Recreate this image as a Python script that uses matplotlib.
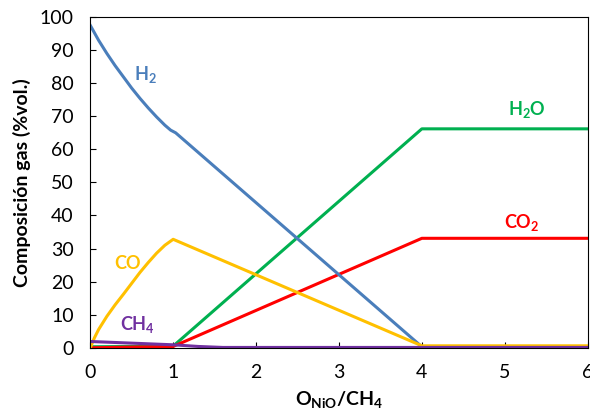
import matplotlib
matplotlib.use("Agg")
import matplotlib.pyplot as plt

plt.rcParams['font.family'] = ['Lato', 'DejaVu Sans']
plt.rcParams['mathtext.fontset'] = 'custom'
plt.rcParams['mathtext.rm'] = 'Lato'
plt.rcParams['mathtext.bf'] = 'Lato:bold'

# valores
h2_x = [0, 0.1, 0.2, 0.3, 0.4, 0.5, 0.6, 0.7, 0.8, 0.9, 0.97, 1.03, 4, 6]
h2_y = [97.5, 93, 89, 85.3, 81.9, 78.5, 75.4, 72.5, 69.8, 67.3, 65.8, 65.0, 0.3, 0.3]

co_x = [0, 0.05, 0.1, 0.2, 0.3, 0.4, 0.5, 0.6, 0.7, 0.8, 0.9, 1.0, 4, 6]
co_y = [0, 3, 5.5, 9.5, 13, 16.2, 19.5, 22.8, 25.8, 28.6, 31, 32.8, 0.6, 0.6]

ch4_x = [0, 0.5, 1.0, 1.3, 1.6, 6]
ch4_y = [1.9, 1.4, 0.9, 0.4, 0.1, 0.1]

h2o_x = [0, 1, 4, 6]
h2o_y = [0.3, 0.5, 66.2, 66.2]

co2_x = [0, 1, 4, 6]
co2_y = [0, 0.4, 33.1, 33.1]

fig, ax = plt.subplots(figsize=(5.9, 4.16), dpi=100)
fig.subplots_adjust(left=0.153, right=0.996, bottom=0.164, top=0.959)

lw = 2.2
ax.plot(h2o_x, h2o_y, color="#00B050", lw=lw)
ax.plot(co2_x, co2_y, color="#FF0000", lw=lw)
ax.plot(h2_x, h2_y, color="#4A7EBB", lw=lw)
ax.plot(co_x, co_y, color="#FFC000", lw=lw)
ax.plot(ch4_x, ch4_y, color="#7030A0", lw=lw)

lab = dict(fontsize=13, fontweight="bold", ha="center", va="center")
ax.text(0.67, 82.5, r"H$_\mathbf{2}$", color="#4A7EBB", **lab)
ax.text(0.45, 25.5, "CO", color="#FFC000", **lab)
ax.text(0.57, 7, r"CH$_\mathbf{4}$", color="#7030A0", **lab)
ax.text(5.27, 72, r"H$_\mathbf{2}$O", color="#00B050", **lab)
ax.text(5.2, 38, r"CO$_\mathbf{2}$", color="#FF0000", **lab)

ax.set_xlim(0, 6)
ax.set_ylim(0, 100)
ax.set_xticks(range(0, 7))
ax.set_yticks(range(0, 101, 10))
ax.tick_params(direction="in", labelsize=14, length=4, width=0.8, pad=12)
for s in ax.spines.values():
    s.set_linewidth(0.8)

ax.set_ylabel("Composición gas (%vol.)", fontsize=14, fontweight="bold", labelpad=6)
ax.set_xlabel(r"O$_\mathbf{NiO}$/CH$_\mathbf{4}$", fontsize=14, fontweight="bold", labelpad=6)

fig.savefig("out.png", dpi=100)
